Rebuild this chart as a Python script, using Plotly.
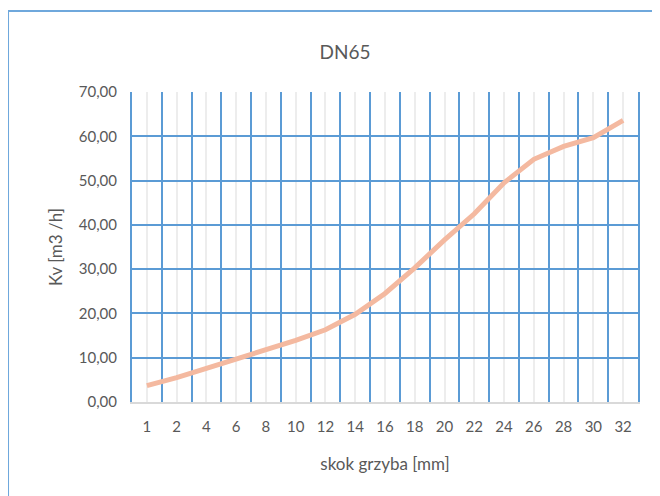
import plotly.graph_objects as go

# dane: skok grzyba [mm] i Kv [m3/h]
skok = ["1", "2", "4", "6", "8", "10", "12", "14", "16", "18", "20", "22", "24", "26", "28", "30", "32"]
kv = [3.7, 5.5, 7.6, 9.7, 12.0, 13.9, 16.3, 19.8, 24.5, 30.3, 36.6, 42.5, 49.5, 54.8, 57.7, 59.7, 63.6]

blue = "#5B9BD5"
grey_txt = "#595959"
font = "Lato"

idx = list(range(len(skok)))

fig = go.Figure()
fig.add_trace(go.Scatter(x=idx, y=kv, mode="lines",
                         line=dict(color="#F4B9A0", width=5), showlegend=False))

# strona ma 8px marginesu, wiec wykres jest troche mniejszy
fig.update_layout(
    width=652, height=488,
    margin=dict(l=124, r=22, t=84, b=94),
    paper_bgcolor="white", plot_bgcolor="white",
    separators=", ",
    font=dict(family=font, size=15, color=grey_txt),
    title=dict(text="DN65", x=0.517, xanchor="center", y=0.91, yanchor="middle",
               font=dict(family=font, size=19, color=grey_txt)),
    shapes=[dict(type="rect", xref="paper", yref="paper",
                 x0=-0.245, x1=1.2, y0=-0.6, y1=1.261,
                 line=dict(color="#6FA8DC", width=2), layer="below")],
)

fig.update_xaxes(
    range=[-0.5, len(skok) - 0.5],
    tickvals=idx, ticktext=skok,
    showgrid=True, gridcolor="#EDEDED", gridwidth=2,
    minor=dict(tick0=-0.5, dtick=1, showgrid=True, gridcolor=blue, gridwidth=2),
    showline=True, linecolor="#D9D9D9", linewidth=2,
    zeroline=False, ticks="", ticklabelstandoff=10,
    title=dict(text="skok grzyba [mm]", standoff=24,
               font=dict(family=font, size=17, color=grey_txt)),
    tickfont=dict(family=font, size=15, color=grey_txt),
)
fig.update_yaxes(
    range=[0, 70], dtick=10, tickformat=".2f",
    showgrid=True, gridcolor=blue, gridwidth=2,
    showline=True, mirror=True, linecolor=blue, linewidth=2,
    zeroline=False, ticks="", ticklabelstandoff=10,
    title=dict(text="Kv [m3 /h]", standoff=12,
               font=dict(family=font, size=17, color=grey_txt)),
    tickfont=dict(family=font, size=15, color=grey_txt),
)

fig.write_html("out.html")
